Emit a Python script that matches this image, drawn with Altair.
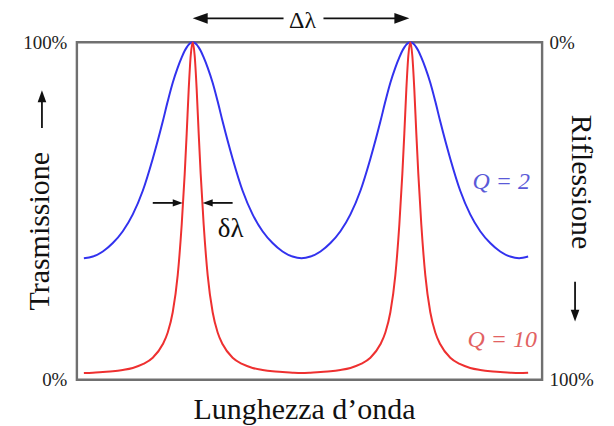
import altair as alt
import pandas as pd

# ---- data (wavelength in arbitrary units, transmission in %) ----
wavelength = [7, 16, 26, 36, 46, 56, 66, 76, 86, 91, 96, 101, 105, 108, 110, 112, 114, 116,
              118, 120, 122, 124, 127, 131, 136, 141, 146, 156, 166, 176, 186, 196, 206, 216, 225,
              234, 244, 254, 264, 274, 284, 294, 304, 309, 314, 319, 323, 326, 328, 330, 332, 334,
              336, 338, 340, 342, 345, 349, 354, 359, 364, 374, 384, 394, 404, 414, 424, 434, 443, 452]

trasm_q2 = [36.0, 36.5, 38.0, 40.5, 44.0, 49.0, 56.0, 65.5, 76.5, 82.5, 88.0, 92.5, 95.5, 97.5, 98.5, 99.3, 99.8, 100.0,
            99.8, 99.3, 98.5, 97.5, 95.5, 92.5, 88.0, 82.5, 76.5, 65.5, 56.0, 49.0, 44.0, 40.5, 38.0, 36.5, 36.0,
            36.5, 38.0, 40.5, 44.0, 49.0, 56.0, 65.5, 76.5, 82.5, 88.0, 92.5, 95.5, 97.5, 98.5, 99.3, 99.8, 100.0,
            99.8, 99.3, 98.5, 97.5, 95.5, 92.5, 88.0, 82.5, 76.5, 65.5, 56.0, 49.0, 44.0, 40.5, 38.0, 36.5, 36.0, 36.5]

trasm_q10 = [2.0, 2.1, 2.3, 2.5, 2.9, 3.5, 4.6, 6.5, 10.5, 14.0, 20.0, 31.0, 46.0, 61.0, 73.0, 86.0, 96.0, 100.0,
             96.0, 86.0, 73.0, 61.0, 46.0, 31.0, 20.0, 14.0, 10.5, 6.5, 4.6, 3.5, 2.9, 2.5, 2.3, 2.1, 2.0,
             2.1, 2.3, 2.5, 2.9, 3.5, 4.6, 6.5, 10.5, 14.0, 20.0, 31.0, 46.0, 61.0, 73.0, 86.0, 96.0, 100.0,
             96.0, 86.0, 73.0, 61.0, 46.0, 31.0, 20.0, 14.0, 10.5, 6.5, 4.6, 3.5, 2.9, 2.5, 2.3, 2.1, 2.0, 2.1]

series_names = ["Q = 2", "Q = 10"]
series_colors = ["#3232ee", "#ee3030"]

curves = pd.DataFrame({
    "lam": wavelength * 2,
    "T": trasm_q2 + trasm_q10,
    "serie": [series_names[0]] * len(wavelength) + [series_names[1]] * len(wavelength),
})

# ---- annotations (in data coordinates) ----
texts = pd.DataFrame([
    {"t": "Δλ", "x": 226, "y": 106.2, "size": 24, "angle": 0, "color": "#111111"},
    {"t": "δλ", "x": 154, "y": 44.7, "size": 27, "angle": 0, "color": "#111111"},
    {"t": "Trasmissione", "x": -37, "y": 44.0, "size": 30, "angle": 270, "color": "#111111"},
    {"t": "Riflessione", "x": 505, "y": 58.6, "size": 30, "angle": 90, "color": "#111111"},
    {"t": "Lunghezza d’onda", "x": 228, "y": -8.9, "size": 30, "angle": 0, "color": "#111111"},
])
qlabels = pd.DataFrame([
    {"t": "Q = 2", "x": 425, "y": 58.6, "color": "#5a5ad8"},
    {"t": "Q = 10", "x": 426, "y": 11.8, "color": "#e26262"},
])
shafts = pd.DataFrame([
    {"x": 124, "x2": 207, "y": 107.1, "y2": 107.1},
    {"x": 247, "x2": 326, "y": 107.1, "y2": 107.1},
    {"x": 76, "x2": 101, "y": 52.4, "y2": 52.4},
    {"x": 131, "x2": 156, "y": 52.4, "y2": 52.4},
    {"x": -35, "x2": -35, "y": 74.6, "y2": 84.0},
    {"x": 499, "x2": 499, "y": 29.0, "y2": 19.0},
])
heads = pd.DataFrame([
    {"x": 123.5, "y": 107.1, "angle": 180, "size": 225},
    {"x": 325.5, "y": 107.1, "angle": 0, "size": 225},
    {"x": 101, "y": 52.4, "angle": 0, "size": 100},
    {"x": 131, "y": 52.4, "angle": 180, "size": 100},
    {"x": -35, "y": 84.0, "angle": 270, "size": 144},
    {"x": 499, "y": 19.0, "angle": 90, "size": 144},
])

FONT = "Liberation Serif"
xs = alt.Scale(domain=[0, 466], nice=False, zero=False)
ys = alt.Scale(domain=[0, 100], nice=False, zero=False)

lines = alt.Chart(curves).mark_line(strokeWidth=2, interpolate="monotone").encode(
    x=alt.X("lam:Q", scale=xs, axis=None),
    y=alt.Y("T:Q", scale=ys, axis=alt.Axis(
        values=[0, 100], labelExpr="datum.value + '%'", ticks=False, domain=False, grid=False,
        labelFont=FONT, labelFontSize=19, labelColor="#222222", labelPadding=10, title=None)),
    color=alt.Color("serie:N", scale=alt.Scale(domain=series_names, range=series_colors), legend=None),
    detail="serie:N",
)

right_axis = alt.Chart(curves).mark_line(opacity=0).encode(
    x=alt.X("lam:Q", scale=xs, axis=None),
    y=alt.Y("T:Q", scale=ys, axis=alt.Axis(
        orient="right", values=[0, 100], labelExpr="(100 - datum.value) + '%'", ticks=False,
        domain=False, grid=False, labelFont=FONT, labelFontSize=19, labelColor="#222222",
        labelPadding=7, labelAlign="left", title=None)),
    detail="serie:N",
)

text_layer = alt.Chart(texts).mark_text(font=FONT, baseline="middle", align="center").encode(
    x=alt.X("x:Q", scale=xs, axis=None),
    y=alt.Y("y:Q", scale=ys, axis=None),
    text="t:N",
    size=alt.Size("size:Q", scale=None, legend=None),
    angle=alt.Angle("angle:Q", scale=None),
    color=alt.Color("color:N", scale=None),
)

q_layer = alt.Chart(qlabels).mark_text(font=FONT, fontStyle="italic", fontSize=24,
                                       baseline="middle", align="center").encode(
    x=alt.X("x:Q", scale=xs, axis=None),
    y=alt.Y("y:Q", scale=ys, axis=None),
    text="t:N",
    color=alt.Color("color:N", scale=None),
)

shaft_layer = alt.Chart(shafts).mark_rule(strokeWidth=1.8, color="#111111").encode(
    x=alt.X("x:Q", scale=xs, axis=None),
    x2="x2:Q",
    y=alt.Y("y:Q", scale=ys, axis=None),
    y2="y2:Q",
)

head_layer = alt.Chart(heads).mark_point(
    shape="M1,0L-1,-0.72L-1,0.72Z", filled=True, opacity=1, color="#111111", strokeWidth=0
).encode(
    x=alt.X("x:Q", scale=xs, axis=None),
    y=alt.Y("y:Q", scale=ys, axis=None),
    angle=alt.Angle("angle:Q", scale=None),
    size=alt.Size("size:Q", scale=None, legend=None),
)

chart = alt.layer(
    lines, right_axis, shaft_layer, head_layer, text_layer, q_layer
).resolve_axis(y="independent").properties(
    width=466, height=338,
    autosize=alt.AutoSizeParams(type="none"),
    padding={"left": 69, "top": 34, "right": 64, "bottom": 46},
    background="white",
).configure_view(stroke="#707070", strokeWidth=2.4)

chart.save("out.html", embed_options={"renderer": "svg", "actions": False})
